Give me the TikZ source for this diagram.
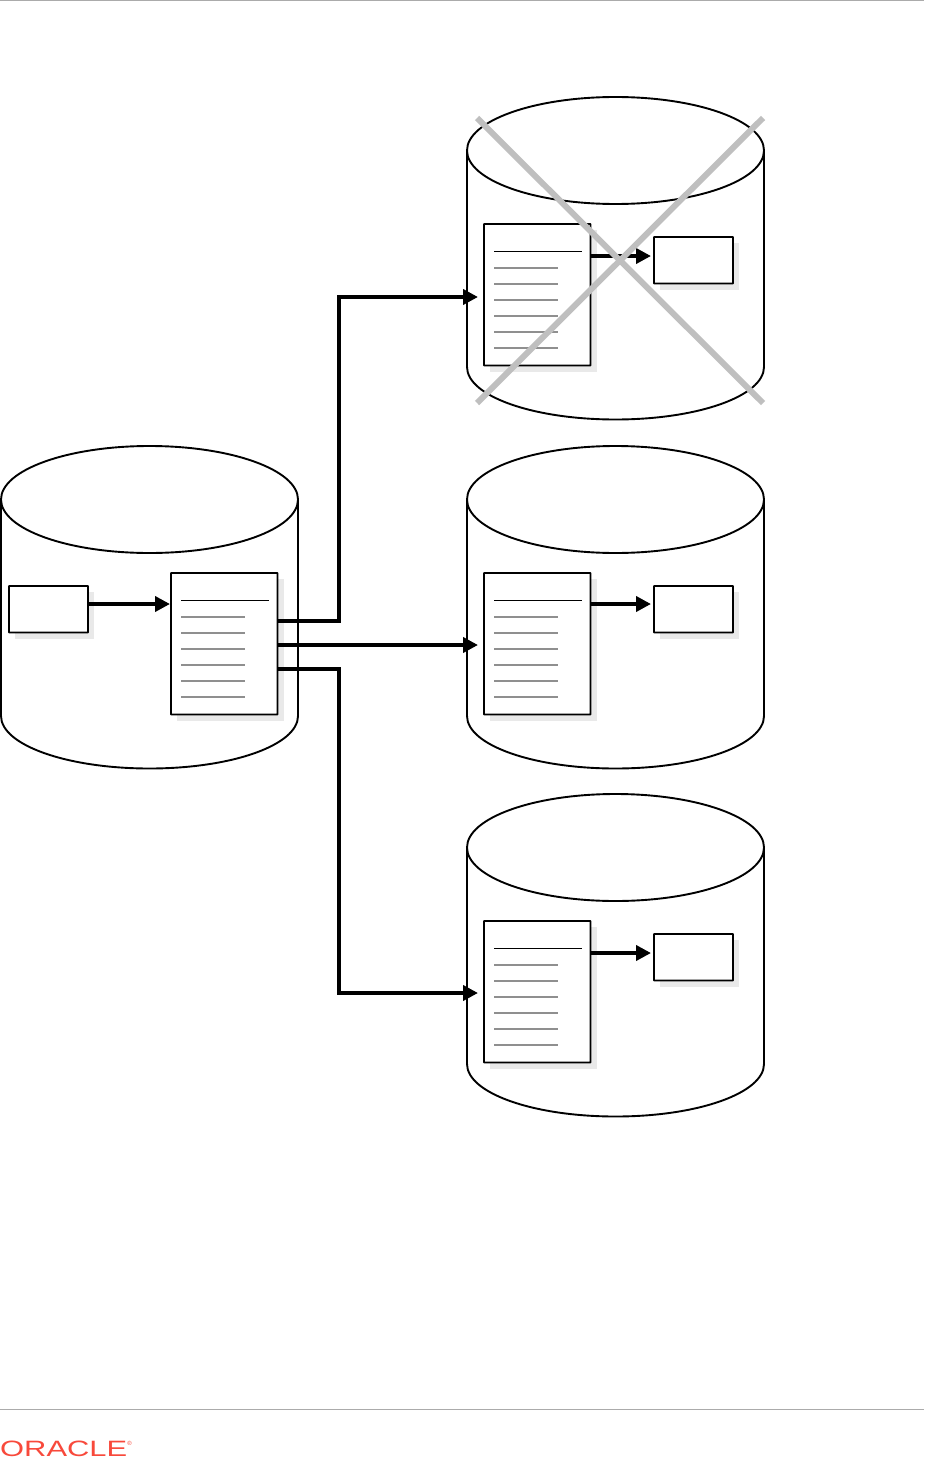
\documentclass[tikz,border=0pt]{standalone}
\usepackage{fontspec}
\setmainfont{Liberation Sans}
\usetikzlibrary{arrows.meta}
\definecolor{shadowgrey}{HTML}{E9E9E9}
\definecolor{rulegrey}{HTML}{8F8F8F}
\definecolor{crossgrey}{HTML}{BFBFBF}
\definecolor{framegrey}{HTML}{ABABAB}
\definecolor{oraclered}{HTML}{F8493B}
\tikzset{
  x=1pt,y=-1pt,
  outline/.style={draw=black,line width=1.9pt},
  boxnode/.style={outline,fill=white,inner sep=0pt,outer sep=0pt,anchor=north west,rounded corners=0.4pt},
  docnode/.style={boxnode,minimum width=106.5pt,minimum height=141.5pt},
  tagnode/.style={boxnode,minimum width=79pt,minimum height=46.5pt},
  shade/.style={fill=shadowgrey,draw=none},
  link/.style={draw=black,line width=3.8pt,-{Triangle[length=15pt,width=15pt]},shorten >=0pt},
  crossbar/.style={draw=crossgrey,line width=6pt},
}
% cylinder: name, left x, top y
\newcommand{\dbcyl}[3]{%
  \begin{scope}[shift={(#2,#3)}]
    \draw[outline,fill=white] (0,53.5) -- (0,270)
      .. controls (0,299) and (66,322.5) .. (148.5,322.5)
      .. controls (231,322.5) and (297,299) .. (297,270) -- (297,53.5);
    \draw[outline,fill=white] (148.5,53.5) ellipse [x radius=148.5,y radius=53.5];
    \coordinate (#1) at (148.5,160);
  \end{scope}}
% document with ruled lines: name, left x, top y
\newcommand{\docbox}[3]{%
  \fill[shade] (#2+6,#3+6) rectangle (#2+112.5,#3+147.5);
  \node[docnode] (#1) at (#2,#3) {};
  \draw[black,line width=1.6pt] (#2+10,#3+27.5) -- (#2+97.5,#3+27.5);
  \foreach \d in {44,60,76,92,108,124}
    \draw[rulegrey,line width=1.5pt] (#2+10,#3+\d) -- (#2+74,#3+\d);}
% small box: name, left x, top y
\newcommand{\tagbox}[3]{%
  \fill[shade] (#2+6,#3+6) rectangle (#2+85,#3+52.5);
  \node[tagnode] (#1) at (#2,#3) {};}
\begin{document}
\begin{tikzpicture}
\useasboundingbox (0,0) rectangle (924,1458);
\fill[white] (0,0) rectangle (924,1458);
% page rules
\draw[framegrey,line width=1pt] (0,0.5) -- (924,0.5);
\draw[framegrey,line width=1pt] (0,1409.5) -- (924,1409.5);
% cylinders
\dbcyl{cylL}{1}{446}
\dbcyl{cylA}{467}{97}
\dbcyl{cylB}{467}{446}
\dbcyl{cylC}{467}{794}
% source
\tagbox{tagL}{9}{586}
\docbox{docL}{171}{573}
% targets
\docbox{docA}{484}{224}
\tagbox{tagA}{654}{237}
\docbox{docB}{484}{573}
\tagbox{tagB}{654}{586}
\docbox{docC}{484}{921}
\tagbox{tagC}{654}{934}
% local arrows
\coordinate (inL) at (170,604);
\draw[link] (tagL.east |- inL) -- (inL);
\coordinate (outA) at (651,256);
\draw[link] (docA.east |- outA) -- (outA);
\coordinate (outB) at (651,604);
\draw[link] (docB.east |- outB) -- (outB);
\coordinate (outC) at (651,953);
\draw[link] (docC.east |- outC) -- (outC);
% links between databases
\coordinate (inA) at (478,297);
\coordinate (inB) at (478,645);
\coordinate (inC) at (478,993);
\coordinate (startA) at (277,621);
\coordinate (startC) at (277,669);
\draw[link] (startA) -- (339,621) -- (339,297) -- (inA);
\draw[link] (docL.east |- inB) -- (inB);
\draw[link] (startC) -- (339,669) -- (339,993) -- (inC);
% cross
\draw[crossbar] (477,118) -- (763,403);
\draw[crossbar] (763,118) -- (477,403);
% logo
\node[inner sep=0pt,anchor=south west,text=oraclered] (logo) at (0,1456.5)
  {\resizebox{127pt}{15.5pt}{\fontsize{20}{20}\selectfont ORACLE}};
\node[inner sep=0pt,text=oraclered,font=\fontsize{6}{6}\selectfont] (reg) at (129.5,1443) {®};
\end{tikzpicture}
\end{document}
